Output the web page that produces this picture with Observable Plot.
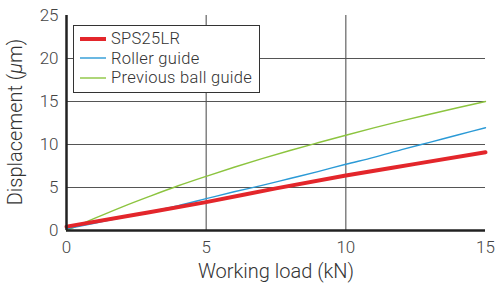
<!DOCTYPE html>
<html>
<head>
<meta charset="utf-8">
<script src="https://cdn.jsdelivr.net/npm/d3@7"></script>
<script src="https://cdn.jsdelivr.net/npm/@observablehq/plot@0.6"></script>
<style>
  html, body { margin: 0; padding: 0; background: #fff; }
  #wrap { position: relative; width: 497px; height: 287px; }
  #legend { position: absolute; left: 73px; top: 25px; width: 187px; height: 68px;
    border: 1px solid #333; background: #fff; box-sizing: border-box;
    font-family: Roboto, "Liberation Sans", Arial, sans-serif; font-weight: 300; font-size: 16.5px; line-height: 17px; color: #333; }
  .row { position: absolute; left: 6px; height: 17px; display: flex; align-items: center; }
  .row span { margin-left: 5px; white-space: nowrap; line-height: 17px; letter-spacing: 0.3px; }
</style>
</head>
<body>
<div id="wrap"></div>
<script>
const seriesNames = ["SPS25LR", "Roller guide", "Previous ball guide"];
const seriesColors = ["#e3262b", "#2b9ad6", "#8cc43f"];
const seriesWidths = [4, 1.4, 1.4];

const spsLoad = [0, 2.5, 5, 7.5, 10, 12.5, 15];
const spsDisp = [0.45, 1.85, 3.3, 4.9, 6.4, 7.75, 9.1];

const rollerLoad = [0, 1, 2, 3, 4, 5, 6, 7, 8, 9, 10, 11, 12, 13, 14, 15];
const rollerDisp = [0.2, 0.85, 1.5, 2.2, 2.9, 3.7, 4.5, 5.25, 6.05, 6.85, 7.7, 8.5, 9.4, 10.25, 11.1, 11.95];

const ballLoad = [0, 1, 2, 3, 4, 5, 6, 7, 8, 9, 10, 11, 12, 13, 14, 15];
const ballDisp = [0, 1.4, 2.75, 4.0, 5.2, 6.3, 7.35, 8.35, 9.3, 10.2, 11.08, 11.93, 12.75, 13.52, 14.27, 15.0];

const xTicks = [0, 5, 10, 15];
const yTicks = [0, 5, 10, 15, 20, 25];
const xGrid = [5, 10];
const yGrid = [5, 10, 15, 20];

const toRows = (xs, ys, s) => xs.map((x, i) => ({x, y: ys[i], s}));
const series = [
  toRows(spsLoad, spsDisp, 0),
  toRows(rollerLoad, rollerDisp, 1),
  toRows(ballLoad, ballDisp, 2)
];

const font = "Roboto, Liberation Sans, Arial, sans-serif";
const plot = Plot.plot({
  width: 497,
  height: 287,
  marginLeft: 66,
  marginRight: 12,
  marginTop: 15,
  marginBottom: 57,
  style: { fontFamily: font, fontSize: "17px", fontWeight: 300, color: "#444", background: "#fff" },
  x: { domain: [0, 15], ticks: xTicks, label: null, tickSize: 0, tickPadding: 10 },
  y: { domain: [0, 25], ticks: yTicks, label: null, tickSize: 0, tickPadding: 8 },
  marks: [
    Plot.ruleY(yGrid, { stroke: "#555", strokeWidth: 1.1 }),
    Plot.ruleX(xGrid, { stroke: "#555", strokeWidth: 1.1 }),
    ...[2, 1, 0].map(i => Plot.line(series[i], {
      x: "x", y: "y", stroke: seriesColors[i], strokeWidth: seriesWidths[i], curve: "monotone-x"
    })),
    Plot.ruleY([0], { stroke: "#222", strokeWidth: 2.5 }),
    Plot.ruleX([0], { stroke: "#222", strokeWidth: 2.5 })
  ]
});

const svg = d3.select(plot);
svg.append("text")
  .attr("x", 276).attr("y", 278)
  .attr("text-anchor", "middle")
  .attr("font-family", font).attr("font-weight", 300).attr("font-size", 20).attr("fill", "#333")
  .text("Working load (kN)");
const yl = svg.append("text")
  .attr("transform", "translate(22,122) rotate(-90)")
  .attr("text-anchor", "middle")
  .attr("font-family", font).attr("font-weight", 300).attr("font-size", 20).attr("fill", "#333");
yl.append("tspan").text("Displacement (");
yl.append("tspan").attr("font-style", "italic").text("μ");
yl.append("tspan").text("m)");

const wrap = document.getElementById("wrap");
wrap.appendChild(plot);

const legend = document.createElement("div");
legend.id = "legend";
seriesNames.forEach((name, i) => {
  const row = document.createElement("div");
  row.className = "row";
  row.style.top = (4 + i * 19.5) + "px";
  row.innerHTML = `<svg width="26" height="8"><line x1="0" x2="26" y1="4" y2="4" stroke="${seriesColors[i]}" stroke-width="${seriesWidths[i] === 4 ? 4 : 1.4}"/></svg><span>${name}</span>`;
  legend.appendChild(row);
});
wrap.appendChild(legend);
</script>
</body>
</html>
